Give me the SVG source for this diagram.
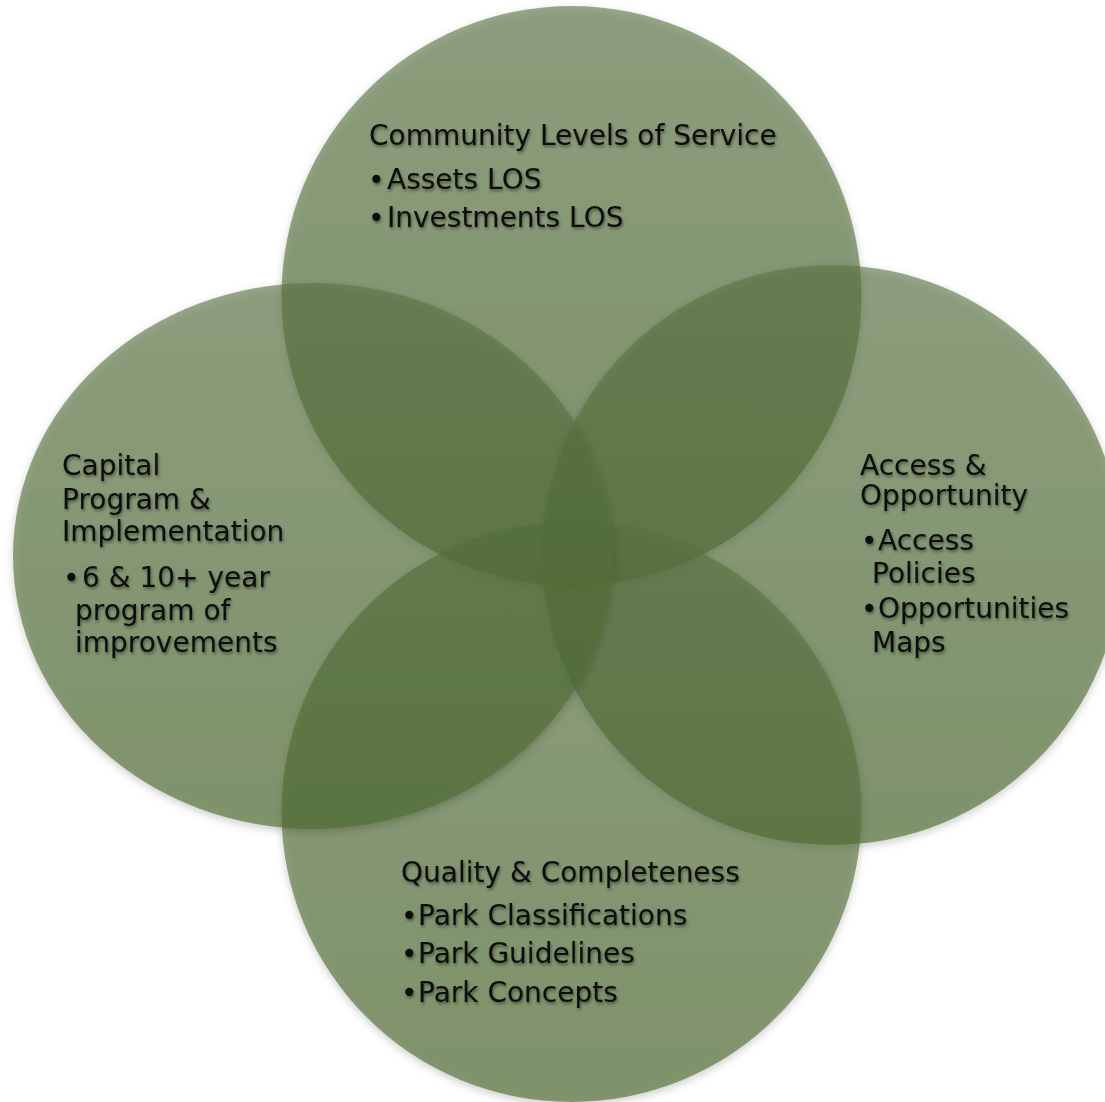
<svg xmlns="http://www.w3.org/2000/svg" width="1105" height="1102" viewBox="0 0 1105 1102">
<defs>
<linearGradient id="g" x1="0" y1="0" x2="0" y2="1">
<stop offset="0" stop-color="#5b7444" stop-opacity="0.61"/>
<stop offset="1" stop-color="#4d6a2e" stop-opacity="0.64"/>
</linearGradient>
<filter id="sh" x="-10%" y="-10%" width="120%" height="125%">
<feDropShadow dx="0" dy="3" stdDeviation="4" flood-color="#000" flood-opacity="0.3"/>
</filter>
<filter id="ts" x="-10%" y="-30%" width="120%" height="160%">
<feDropShadow dx="1" dy="2" stdDeviation="1.6" flood-color="#000" flood-opacity="0.45"/>
</filter>
</defs>
<style>
.c{fill:url(#g);filter:url(#sh)}
.t{font-family:"DejaVu Sans",sans-serif;font-size:28px;fill:#0d0d0d;filter:url(#ts)}
</style>
<rect width="1105" height="1102" fill="#fff"/>
<g id="shapes">
<circle id="c-top" class="c" cx="571.5" cy="296" r="290"/>
<circle id="c-right" class="c" cx="832" cy="555" r="290"/>
<circle id="c-bottom" class="c" cx="571.5" cy="812" r="290"/>
<ellipse id="c-left" class="c" cx="313" cy="556" rx="300" ry="273"/>
</g>
<g id="node-top">
<text class="t" x="369" y="145">Community Levels of Service</text>
<text class="t"><tspan x="368" y="189">•</tspan><tspan x="387" y="189">Assets LOS</tspan></text>
<text class="t"><tspan x="368" y="227">•</tspan><tspan x="387" y="227">Investments LOS</tspan></text>
</g>
<g id="node-left">
<text class="t" x="62" y="475">Capital</text>
<text class="t" x="62" y="509">Program &amp;</text>
<text class="t" x="62" y="541">Implementation</text>
<text class="t"><tspan x="63" y="587">•</tspan><tspan x="82" y="587">6 &amp; 10+ year</tspan></text>
<text class="t" x="75" y="620">program of</text>
<text class="t" x="75" y="652">improvements</text>
</g>
<g id="node-right">
<text class="t" x="860" y="475">Access &amp;</text>
<text class="t" x="860" y="505">Opportunity</text>
<text class="t"><tspan x="861" y="550">•</tspan><tspan x="878" y="550">Access</tspan></text>
<text class="t" x="872" y="583">Policies</text>
<text class="t"><tspan x="861" y="618">•</tspan><tspan x="878" y="618">Opportunities</tspan></text>
<text class="t" x="872" y="652">Maps</text>
</g>
<g id="node-bottom">
<text class="t" x="401" y="882">Quality &amp; Completeness</text>
<text class="t"><tspan x="401" y="925">•</tspan><tspan x="418" y="925">Park Classifications</tspan></text>
<text class="t"><tspan x="401" y="963">•</tspan><tspan x="418" y="963">Park Guidelines</tspan></text>
<text class="t"><tspan x="401" y="1002">•</tspan><tspan x="418" y="1002">Park Concepts</tspan></text>
</g>
<g id="connectors"/>
</svg>
